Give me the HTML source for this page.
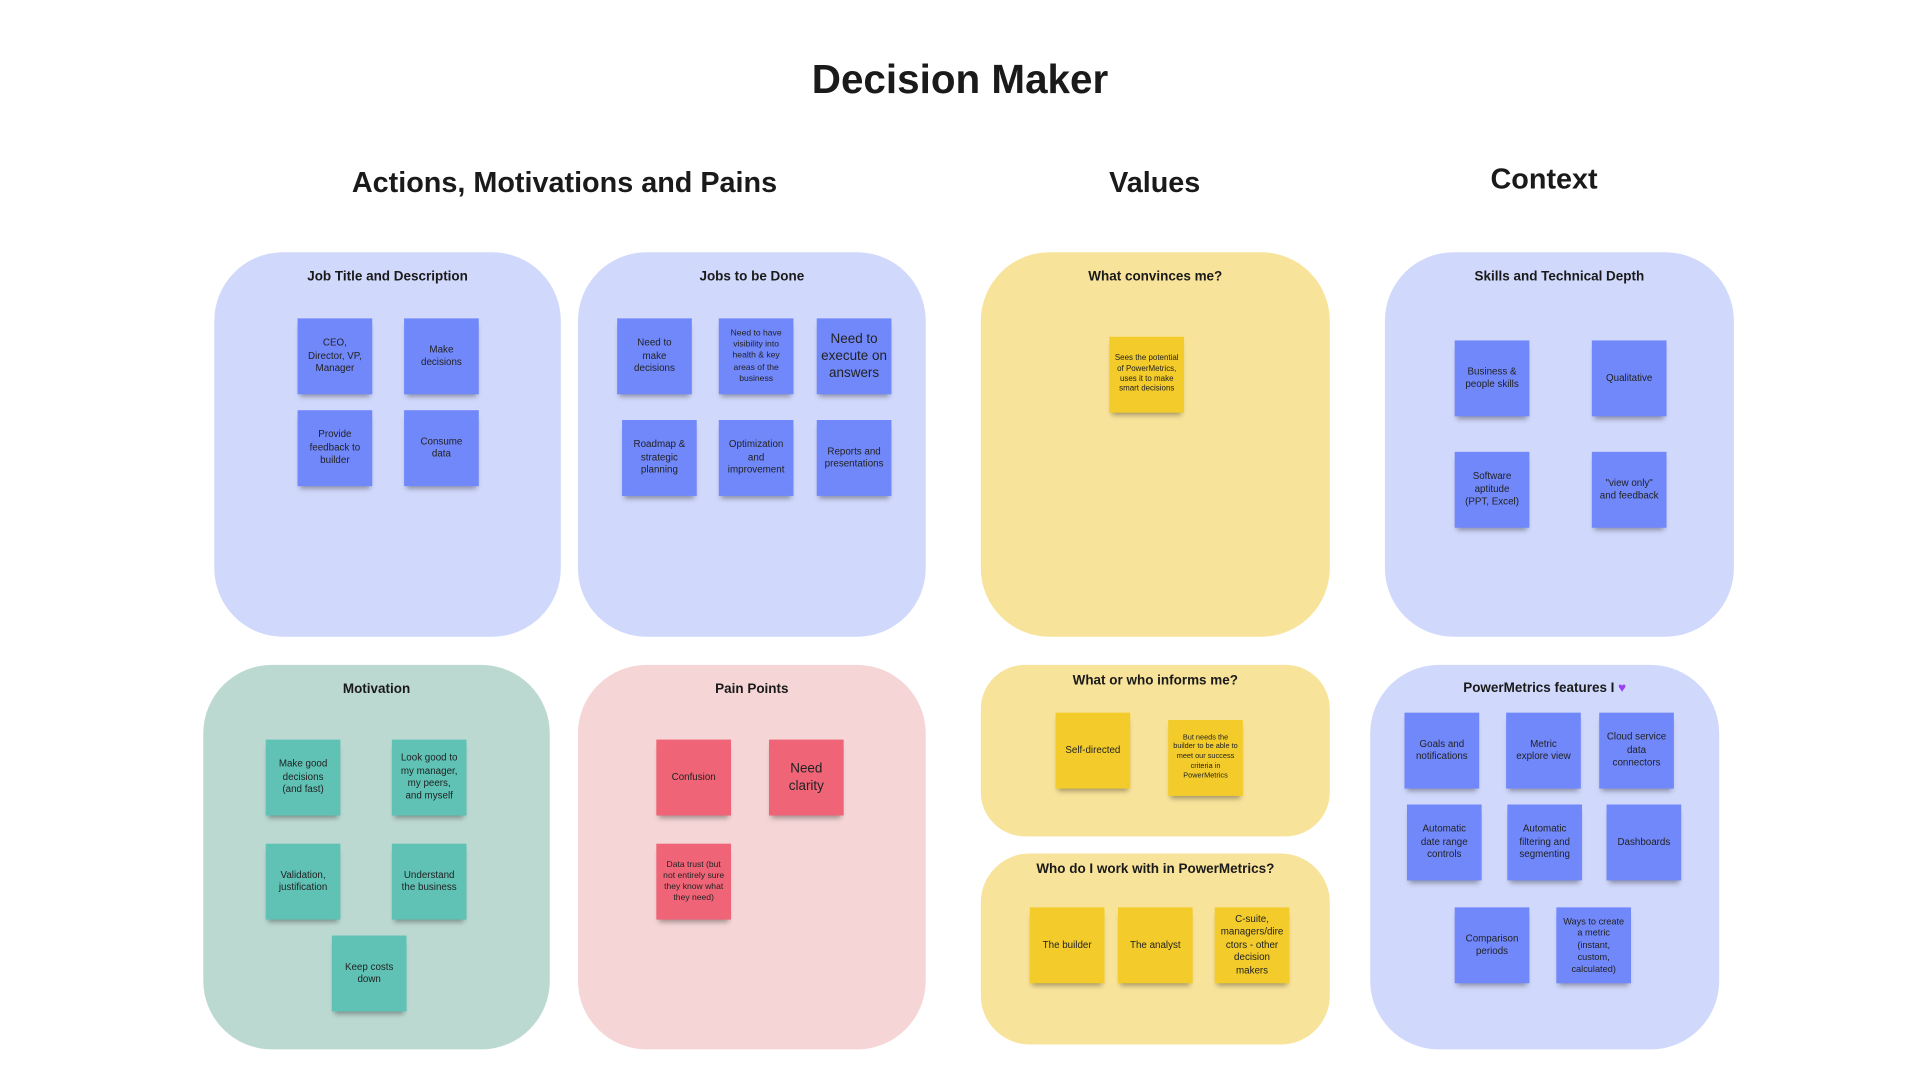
<!DOCTYPE html>
<html><head><meta charset="utf-8"><style>
html,body{margin:0;padding:0;background:#fff;width:1920px;height:1080px;overflow:hidden}
#w{position:absolute;left:0;top:0;width:1568px;height:882px;transform:scale(1.22449);transform-origin:0 0;font-family:"Liberation Sans",sans-serif;color:#1a1a1a}
.h{position:absolute;font-weight:bold;text-align:center;transform:translateX(-50%);white-space:nowrap}
.b{position:absolute;border-radius:56px}
.bt{position:absolute;left:0;right:0;text-align:center;font-weight:bold;font-size:11px;color:#1a1a1a}
.s{position:absolute;width:61px;height:62px;display:flex;align-items:center;justify-content:center;text-align:center;font-size:8px;line-height:1.3;color:#222;box-shadow:0 4px 4px -2px rgba(0,0,0,.35);box-sizing:border-box;padding:3px}
.bl{background:#7188fb}.tl{background:#5fc2b5}.pk{background:#ef6577}.ye{background:#f3cc2b}
.L{background:#d0d8fb}.Y{background:#f8e39a}.G{background:#bcd9d1}.P{background:#f5d5d5}
</style></head><body><div id="w">
<div class="h" style="left:784px;top:46px;font-size:33px">Decision Maker</div>
<div class="h" style="left:461px;top:136px;font-size:23.5px">Actions, Motivations and Pains</div>
<div class="h" style="left:943px;top:136px;font-size:23.5px">Values</div>
<div class="h" style="left:1261px;top:133px;font-size:23.5px">Context</div>

<div class="b L" style="left:175px;top:206px;width:283px;height:314px"><div class="bt" style="top:14px">Job Title and Description</div></div>
<div class="b L" style="left:472px;top:206px;width:284px;height:314px"><div class="bt" style="top:14px">Jobs to be Done</div></div>
<div class="b Y" style="left:801px;top:206px;width:285px;height:314px"><div class="bt" style="top:14px">What convinces me?</div></div>
<div class="b L" style="left:1131px;top:206px;width:285px;height:314px"><div class="bt" style="top:14px">Skills and Technical Depth</div></div>
<div class="b G" style="left:166px;top:543px;width:283px;height:314px"><div class="bt" style="top:14px">Motivation</div></div>
<div class="b P" style="left:472px;top:543px;width:284px;height:314px"><div class="bt" style="top:14px">Pain Points</div></div>
<div class="b Y" style="left:801px;top:543px;width:285px;height:140px;border-radius:36px"><div class="bt" style="top:7px">What or who informs me?</div></div>
<div class="b Y" style="left:801px;top:697px;width:285px;height:156px;border-radius:40px"><div class="bt" style="top:7px">Who do I work with in PowerMetrics?</div></div>
<div class="b L" style="left:1119px;top:543px;width:285px;height:314px"><div class="bt" style="top:13px">PowerMetrics features I <span style="color:#9b3df0">&#9829;</span></div></div>

<div class="s bl" style="left:243px;top:260px">CEO,<br>Director, VP,<br>Manager</div>
<div class="s bl" style="left:330px;top:260px">Make<br>decisions</div>
<div class="s bl" style="left:243px;top:335px">Provide<br>feedback to<br>builder</div>
<div class="s bl" style="left:330px;top:335px">Consume<br>data</div>

<div class="s bl" style="left:504px;top:260px">Need to<br>make<br>decisions</div>
<div class="s bl" style="left:587px;top:260px;font-size:7px">Need to have visibility into health &amp; key areas of the business</div>
<div class="s bl" style="left:667px;top:260px;font-size:11px">Need to execute on answers</div>
<div class="s bl" style="left:508px;top:343px">Roadmap &amp;<br>strategic<br>planning</div>
<div class="s bl" style="left:587px;top:343px">Optimization<br>and<br>improvement</div>
<div class="s bl" style="left:667px;top:343px">Reports and<br>presentations</div>

<div class="s ye" style="left:906px;top:275px;font-size:6.5px">Sees the potential of PowerMetrics, uses it to make smart decisions</div>

<div class="s bl" style="left:1188px;top:278px">Business &amp;<br>people skills</div>
<div class="s bl" style="left:1300px;top:278px">Qualitative</div>
<div class="s bl" style="left:1188px;top:369px">Software<br>aptitude<br>(PPT, Excel)</div>
<div class="s bl" style="left:1300px;top:369px">"view only"<br>and feedback</div>

<div class="s tl" style="left:217px;top:604px">Make good<br>decisions<br>(and fast)</div>
<div class="s tl" style="left:320px;top:604px">Look good to<br>my manager,<br>my peers,<br>and myself</div>
<div class="s tl" style="left:217px;top:689px">Validation,<br>justification</div>
<div class="s tl" style="left:320px;top:689px">Understand<br>the business</div>
<div class="s tl" style="left:271px;top:764px">Keep costs<br>down</div>

<div class="s pk" style="left:536px;top:604px">Confusion</div>
<div class="s pk" style="left:628px;top:604px;font-size:11px">Need<br>clarity</div>
<div class="s pk" style="left:536px;top:689px;font-size:7px">Data trust (but not entirely sure they know what they need)</div>

<div class="s ye" style="left:862px;top:582px">Self-directed</div>
<div class="s ye" style="left:954px;top:588px;font-size:6px">But needs the builder to be able to<br>meet our success criteria in PowerMetrics</div>

<div class="s ye" style="left:841px;top:741px">The builder</div>
<div class="s ye" style="left:913px;top:741px">The analyst</div>
<div class="s ye" style="left:992px;top:741px">C-suite, managers/dire ctors - other decision makers</div>

<div class="s bl" style="left:1147px;top:582px">Goals and<br>notifications</div>
<div class="s bl" style="left:1230px;top:582px">Metric<br>explore view</div>
<div class="s bl" style="left:1306px;top:582px">Cloud service<br>data<br>connectors</div>
<div class="s bl" style="left:1149px;top:657px">Automatic<br>date range<br>controls</div>
<div class="s bl" style="left:1231px;top:657px">Automatic<br>filtering and<br>segmenting</div>
<div class="s bl" style="left:1312px;top:657px">Dashboards</div>
<div class="s bl" style="left:1188px;top:741px">Comparison<br>periods</div>
<div class="s bl" style="left:1271px;top:741px;font-size:7.5px">Ways to create a metric (instant, custom, calculated)</div>
</div></body></html>
